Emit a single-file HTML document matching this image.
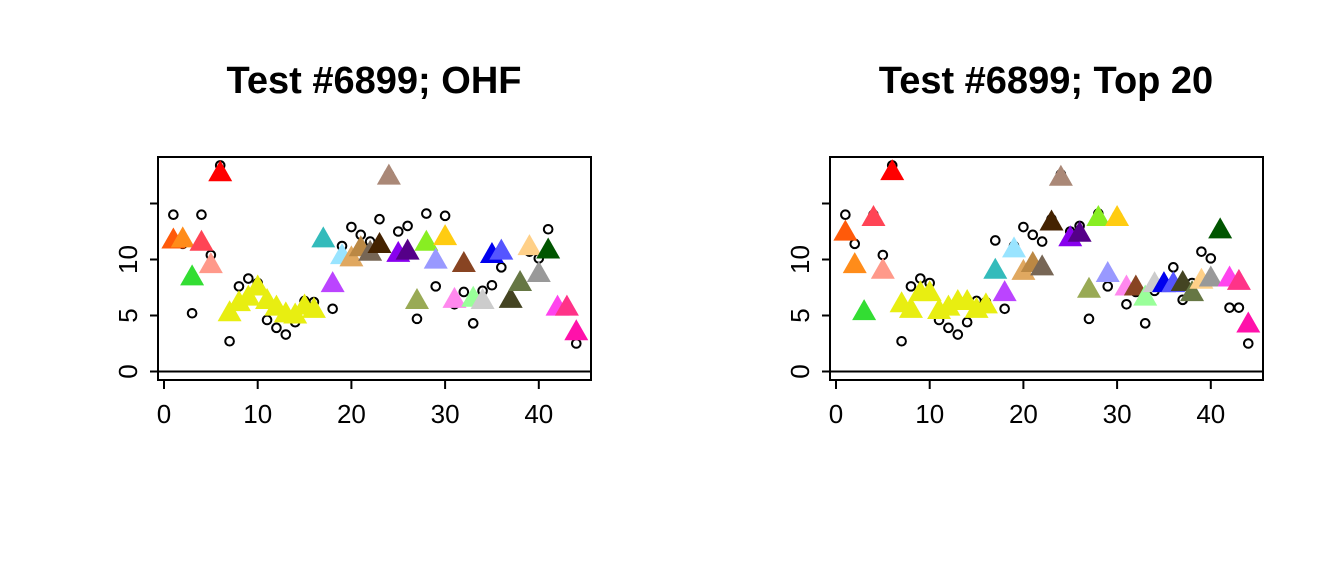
<!DOCTYPE html>
<html><head><meta charset="utf-8"><style>
body{margin:0;background:#fff;}
svg{display:block;font-family:"Liberation Sans",sans-serif;}
</style></head><body>
<svg id="chart" width="1344" height="576" viewBox="0 0 1344 576" xmlns="http://www.w3.org/2000/svg"></svg>
<script>
const xTicks=[0,10,20,30,40];
const yTicks=[0,5,10,15];
const yTickLabels=["0","5","10",""];
const observed=[14.0,11.4,5.2,14.0,10.4,18.4,2.7,7.6,8.3,7.9,4.6,3.9,3.3,4.4,6.3,6.2,11.7,5.6,11.2,12.9,12.2,11.6,13.6,17.6,12.5,13.0,4.7,14.1,7.6,13.9,6.0,7.1,4.3,7.2,7.7,9.3,6.4,7.9,10.7,10.1,12.7,5.7,5.7,2.5];
const predOHF=[11.7,11.8,8.4,11.5,9.5,17.7,5.2,6.1,6.6,7.5,6.3,5.7,5.1,5.0,5.8,5.5,11.8,7.8,10.3,10.1,11.0,10.6,11.3,17.4,10.5,10.7,6.3,11.5,9.9,12.0,6.4,9.6,6.5,6.3,10.4,10.7,6.4,7.9,11.1,8.7,10.8,5.7,5.7,3.5];
const predTop20=[12.4,9.5,5.3,13.7,9.0,17.8,6.0,5.5,7.0,7.0,5.4,5.7,6.2,6.2,5.5,5.9,9.0,7.0,10.9,8.9,9.6,9.3,13.3,17.3,11.9,12.3,7.3,13.7,8.7,13.7,7.5,7.5,6.6,7.8,7.8,7.8,7.9,7.0,8.1,8.3,12.6,8.3,8.0,4.2];
const colors=["#FF5A0A","#FF8C1A","#33DD33","#FF4455","#FF998A","#FF0000","#E8EE11","#E8EE11","#E8EE11","#E8EE11","#E8EE11","#E8EE11","#E8EE11","#E8EE11","#E8EE11","#E8EE11","#33BBBB","#BB44FF","#99E4FF","#E0A860","#BB8844","#776655","#442200","#AA8877","#8800EE","#550088","#99AA55","#88EE22","#9999FF","#FFCC11","#FF88EE","#884422","#99FF99","#CCCCCC","#0000EE","#5555FF","#444422","#667744","#FFD088","#999999","#005500","#FF44EE","#FF3388","#FF11AA"];
const NS="http://www.w3.org/2000/svg";
const svg=document.getElementById('chart');
function mk(tag,attrs,parent){const e=document.createElementNS(NS,tag);for(const k in attrs)e.setAttribute(k,attrs[k]);parent.appendChild(e);return e;}
function panel(x0,title,pred,key){
  const g=mk('g',{},svg);
  
  
  const xs=v=>x0+6+v*9.37;
  const ys=v=>371.5-v*11.2;
  const t=mk('text',{x:x0+216,y:93,'text-anchor':'middle','font-size':38,'font-weight':'bold'},g);
  t.textContent=title;
  
  
  const box=mk('rect',{x:x0,y:157,width:433,height:223,fill:'none',stroke:'#000','stroke-width':2},g);
  
  
  const zl=mk('line',{x1:x0,x2:x0+433,y1:ys(0),y2:ys(0),stroke:'#000','stroke-width':2},g);
  
  
  yTicks.forEach((v,i)=>{
    const l=mk('line',{x1:x0-8,x2:x0,y1:ys(v),y2:ys(v),stroke:'#000','stroke-width':2},g);
    
    
    if(yTickLabels[i]){
      const tx=mk('text',{x:0,y:0,'text-anchor':'middle','font-size':26,transform:`translate(${x0-21},${ys(v)}) rotate(-90)`},g);
      tx.textContent=yTickLabels[i];
      
      
    }
  });
  const xa=mk('line',{x1:xs(0),x2:xs(40),y1:380,y2:380,stroke:'#000','stroke-width':2},g);
  
  
  xTicks.forEach(v=>{
    const l=mk('line',{x1:xs(v),x2:xs(v),y1:380,y2:389,stroke:'#000','stroke-width':2},g);
    
    
    const tx=mk('text',{x:xs(v),y:423,'text-anchor':'middle','font-size':26},g);
    tx.textContent=String(v);
    
    
  });
  observed.forEach((v,i)=>{
    const c=mk('circle',{cx:xs(i+1),cy:ys(v),r:4.3,fill:'none',stroke:'#000','stroke-width':2},g);
    
    
  });
  pred.forEach((v,i)=>{
    const cx=xs(i+1),cy=ys(v);
    const p=mk('polygon',{points:`${cx-12},${cy+8} ${cx+12},${cy+8} ${cx},${cy-13}`,fill:colors[i]},g);
    
    
  });
}
panel(158,'Test #6899; OHF',predOHF,'ohf');
panel(830,'Test #6899; Top 20',predTop20,'top20');
</script>
</body></html>
